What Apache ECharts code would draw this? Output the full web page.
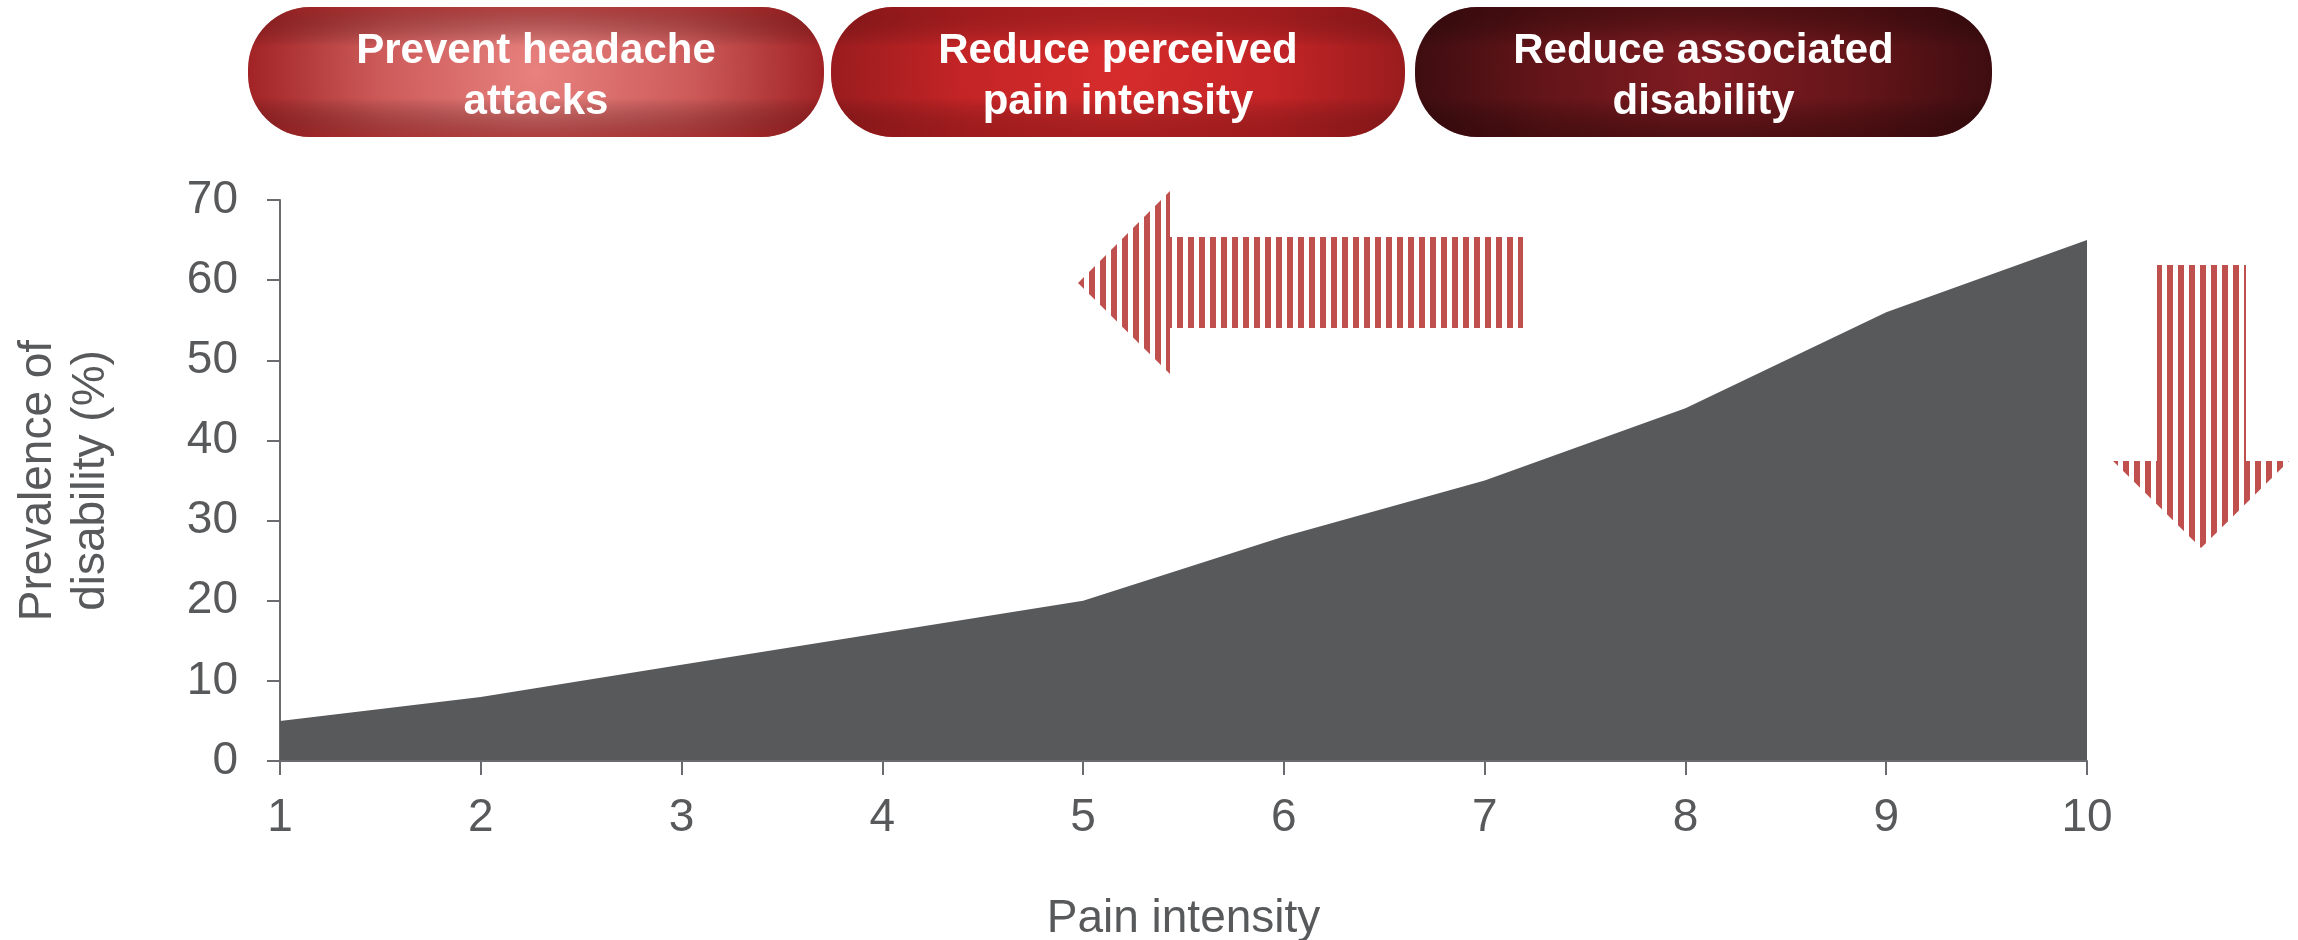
<!DOCTYPE html>
<html>
<head>
<meta charset="utf-8">
<title>Prevalence of disability by pain intensity</title>
<script src="https://cdn.jsdelivr.net/npm/echarts@6/dist/echarts.min.js"></script>
<style>
  html, body { margin: 0; padding: 0; background: #ffffff; }
  #chart { width: 2298px; height: 940px; }
</style>
</head>
<body>
<div id="chart"></div>
<script>
// Pain intensity scale (x) and prevalence of disability in % (y)
const painIntensity = ['1', '2', '3', '4', '5', '6', '7', '8', '9', '10'];
const disabilityPrevalence = [5, 8, 12, 16, 20, 28, 35, 44, 56, 65];
const yAxisMax = 70;
const yAxisStep = 10;

// Treatment goals shown as banners above the plot
const goalLabels = ['Prevent headache\nattacks', 'Reduce perceived\npain intensity', 'Reduce associated\ndisability'];

const FONT = '"Liberation Sans", Arial, sans-serif';
const TEXT_GREY = '#58595b';
const AXIS_GREY = '#6a6b6e';
const STRIPE_RED = '#c0504d';

// Vertical red/white stripes used to fill the two arrows
function stripePattern() {
  const c = document.createElement('canvas');
  c.width = 11;
  c.height = 4;
  const ctx = c.getContext('2d');
  ctx.fillStyle = STRIPE_RED;
  ctx.fillRect(0, 0, 6, 4);
  return { image: c, repeat: 'repeat' };
}

// Banner styling: radial glow plus darker top/bottom rims
const bannerBoxes = [
  { x: 248, y: 7, w: 576, h: 130, inner: '#e8827f', mid: '#cc5a59', outer: '#a12325', rim: 'rgba(140,22,24,0.55)' },
  { x: 831, y: 7, w: 574, h: 130, inner: '#d72c2c', mid: '#c32426', outer: '#9a1c1e', rim: 'rgba(120,16,18,0.45)' },
  { x: 1415, y: 7, w: 577, h: 130, inner: '#801c22', mid: '#641519', outer: '#3e0d10', rim: 'rgba(45,6,8,0.5)' }
];

function bannerElements() {
  const els = [];
  bannerBoxes.forEach((b, i) => {
    const shape = { x: b.x, y: b.y, width: b.w, height: b.h, r: 62 };
    els.push({
      type: 'rect', shape, z: 10, silent: true,
      style: {
        fill: {
          type: 'radial', x: 0.5, y: 0.5, r: (b.w / 2) / b.h,
          colorStops: [
            { offset: 0, color: b.inner },
            { offset: 0.55, color: b.mid },
            { offset: 1, color: b.outer }
          ]
        }
      }
    });
    els.push({
      type: 'rect', shape, z: 11, silent: true,
      style: {
        fill: {
          type: 'linear', x: 0, y: 0, x2: 0, y2: 1,
          colorStops: [
            { offset: 0, color: b.rim },
            { offset: 0.3, color: 'rgba(0,0,0,0)' },
            { offset: 0.7, color: 'rgba(0,0,0,0)' },
            { offset: 1, color: b.rim }
          ]
        }
      }
    });
    els.push({
      type: 'text', z: 12, silent: true,
      x: b.x + b.w / 2, y: b.y + b.h / 2 + 5,
      style: {
        text: goalLabels[i],
        fill: '#ffffff',
        font: 'bold 42px ' + FONT,
        lineHeight: 51,
        align: 'center',
        verticalAlign: 'middle'
      }
    });
  });
  return els;
}

const chart = echarts.init(document.getElementById('chart'), null, { renderer: 'canvas' });

const option = {
  animation: false,
  backgroundColor: '#ffffff',
  grid: { left: 280, right: 211, top: 200, bottom: 179, containLabel: false, outerBoundsMode: 'none' },
  xAxis: {
    type: 'category',
    data: painIntensity,
    boundaryGap: false,
    z: 3,
    name: 'Pain intensity',
    nameLocation: 'middle',
    nameGap: 135,
    nameTextStyle: { color: TEXT_GREY, fontSize: 46, fontFamily: FONT },
    axisLine: { show: true, lineStyle: { color: AXIS_GREY, width: 2 } },
    axisTick: { show: true, length: 14, lineStyle: { color: AXIS_GREY, width: 2 } },
    axisLabel: { color: TEXT_GREY, fontSize: 46, fontFamily: FONT, margin: 34 },
    splitLine: { show: false }
  },
  yAxis: {
    type: 'value',
    min: 0,
    max: yAxisMax,
    interval: yAxisStep,
    name: 'Prevalence of\ndisability (%)',
    nameLocation: 'middle',
    nameGap: 162,
    nameMoveOverlap: false,
    nameTextStyle: { color: TEXT_GREY, fontSize: 46, fontFamily: FONT, lineHeight: 53, align: 'center' },
    axisLine: { show: true, lineStyle: { color: AXIS_GREY, width: 2 } },
    axisTick: { show: true, length: 13, lineStyle: { color: AXIS_GREY, width: 2 } },
    axisLabel: { color: TEXT_GREY, fontSize: 46, fontFamily: FONT, margin: 42 },
    splitLine: { show: false }
  },
  series: [{
    type: 'line',
    data: disabilityPrevalence,
    symbol: 'none',
    lineStyle: { width: 0 },
    areaStyle: { color: '#58595b', opacity: 1 },
    silent: true
  }],
  graphic: [
    ...bannerElements(),
    // Leftward arrow: lower the perceived pain intensity
    {
      type: 'polygon', z: 5, silent: true,
      shape: { points: [[1078, 283], [1170, 191], [1170, 237], [1523, 237], [1523, 328], [1170, 328], [1170, 374]] },
      style: { fill: stripePattern() }
    },
    // Downward arrow: lower the associated disability
    {
      type: 'polygon', z: 5, silent: true,
      shape: { points: [[2157, 265], [2246, 265], [2246, 461], [2289, 461], [2201, 548], [2113, 461], [2157, 461]] },
      style: { fill: stripePattern() }
    }
  ]
};

chart.setOption(option);
</script>
</body>
</html>
